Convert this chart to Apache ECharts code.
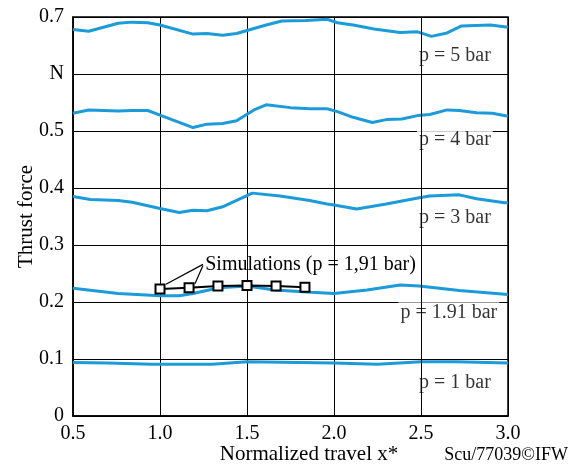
<!doctype html>
<html>
<head>
<meta charset="utf-8">
<title>Thrust force</title>
<script src="https://cdn.jsdelivr.net/npm/echarts@6/dist/echarts.min.js"></script>
<style>
  html, body { margin: 0; padding: 0; background: #fff; }
  #main { width: 574px; height: 466px; }
</style>
</head>
<body>
<div id="main"></div>
<script>
// measured curves, [x*, thrust force]
var p5 = [[0.5,0.678],[0.59,0.675],[0.76,0.689],[0.84,0.691],[0.93,0.690],[1.0,0.686],[1.19,0.670],[1.27,0.671],
  [1.36,0.668],[1.44,0.671],[1.61,0.686],[1.70,0.693],[1.84,0.694],[1.96,0.696],[2.02,0.690],[2.11,0.686],
  [2.23,0.679],[2.38,0.673],[2.48,0.674],[2.56,0.666],[2.65,0.672],[2.73,0.684],[2.90,0.686],[3.0,0.682]];
var p4 = [[0.5,0.531],[0.59,0.537],[0.76,0.535],[0.84,0.536],[0.93,0.536],[1.0,0.528],[1.19,0.506],[1.27,0.512],
  [1.36,0.513],[1.44,0.518],[1.54,0.537],[1.61,0.546],[1.75,0.541],[1.86,0.539],[1.96,0.539],[2.02,0.534],
  [2.11,0.524],[2.22,0.515],[2.30,0.520],[2.39,0.521],[2.48,0.527],[2.55,0.529],[2.65,0.537],[2.72,0.536],
  [2.82,0.532],[2.91,0.531],[3.0,0.526]];
var p3 = [[0.5,0.385],[0.60,0.380],[0.76,0.378],[0.84,0.375],[1.0,0.364],[1.11,0.357],[1.19,0.361],[1.27,0.360],
  [1.36,0.367],[1.53,0.391],[1.69,0.386],[1.86,0.378],[1.96,0.372],[2.0,0.370],[2.13,0.363],[2.30,0.372],
  [2.49,0.383],[2.55,0.386],[2.72,0.388],[2.82,0.381],[2.98,0.374],[3.0,0.374]];
var p191 = [[0.5,0.224],[0.76,0.215],[1.0,0.211],[1.11,0.211],[1.19,0.215],[1.34,0.225],[1.50,0.228],[1.66,0.221],
  [1.87,0.217],[2.0,0.215],[2.19,0.221],[2.38,0.230],[2.49,0.228],[2.72,0.220],[3.0,0.213]];
var p1 = [[0.5,0.094],[0.7,0.093],[0.95,0.091],[1.3,0.091],[1.5,0.095],[1.8,0.094],[2.0,0.093],[2.25,0.091],
  [2.5,0.095],[2.7,0.095],[3.0,0.093]];
var simulations = [[1.0,0.223],[1.167,0.225],[1.333,0.228],[1.5,0.229],[1.667,0.228],[1.833,0.226]];

var curveLabels = ['p = 5 bar', 'p = 4 bar', 'p = 3 bar', 'p = 1.91 bar', 'p = 1 bar'];
var yTickLabels = { '0': '0', '0.1': '0.1', '0.2': '0.2', '0.3': '0.3', '0.4': '0.4', '0.5': '0.5', '0.6': 'N', '0.7': '0.7' };

var serif = 'Liberation Serif';
var blue = '#1b9bd7';

function curve(data) {
  return {
    type: 'line', data: data, symbol: 'none', z: 4, silent: true,
    lineStyle: { color: blue, width: 3 }
  };
}

var myChart = echarts.init(document.getElementById('main'));

var option = {
  animation: false,
  grid: { left: 73, right: 66, top: 17, bottom: 50, outerBoundsMode: 'none', containLabel: false,
    show: true, borderColor: '#000', borderWidth: 1.5 },
  xAxis: {
    type: 'value', min: 0.5, max: 3.0, interval: 0.5,
    name: 'Normalized travel x*', nameLocation: 'middle', nameGap: 28, nameMoveOverlap: false,
    nameTextStyle: { fontFamily: serif, fontSize: 21, color: '#000', padding: [0, 0, 0, 37] },
    axisLine: { lineStyle: { color: '#000', width: 1.5 } },
    axisTick: { show: false },
    axisLabel: { fontFamily: serif, fontSize: 20, color: '#000', margin: 8,
      formatter: function (v) { return v.toFixed(1); } },
    splitLine: { lineStyle: { color: '#000', width: 1 } }
  },
  yAxis: {
    type: 'value', min: 0, max: 0.7, interval: 0.1,
    name: 'Thrust force', nameLocation: 'middle', nameGap: 36, nameMoveOverlap: false,
    nameTextStyle: { fontFamily: serif, fontSize: 21, color: '#000' },
    axisLine: { lineStyle: { color: '#000', width: 1.5 } },
    axisTick: { show: false },
    axisLabel: { fontFamily: serif, fontSize: 20, color: '#000', margin: 9,
      formatter: function (v) { return yTickLabels[(Math.round(v * 10) / 10).toString()]; } },
    splitLine: { lineStyle: { color: '#000', width: 1 } }
  },
  graphic: [{
    type: 'text', right: 6, bottom: 2,
    style: { text: 'Scu/77039©IFW', fontFamily: serif, fontSize: 18, fill: '#000' }
  }],
  series: [
    {
      // curve names, white boxes over the grid lines
      type: 'scatter', symbolSize: 0, z: 1, silent: true,
      data: [
        { value: [2.695, 0.632], name: curveLabels[0] },
        { value: [2.695, 0.485], name: curveLabels[1] },
        { value: [2.695, 0.347], name: curveLabels[2] },
        { value: [2.66, 0.181], name: curveLabels[3] },
        { value: [2.695, 0.058], name: curveLabels[4] }
      ],
      label: {
        show: true, position: [0, 0], align: 'center', verticalAlign: 'middle', formatter: '{b}',
        fontFamily: serif, fontSize: 20, color: '#000',
        backgroundColor: '#fff', padding: [1, 2, 0, 2]
      }
    },
    {
      // vertical grid line at 2.5 shows through the labels
      type: 'line', data: [], z: 2, silent: true,
      markLine: {
        symbol: 'none', silent: true, animation: false, label: { show: false },
        lineStyle: { color: '#000', width: 1, type: 'solid' },
        data: [{ xAxis: 2.5 }]
      }
    },
    curve(p5), curve(p4), curve(p3), curve(p191), curve(p1),
    {
      type: 'line', data: simulations, z: 6, silent: true,
      symbol: 'rect', symbolSize: 9,
      itemStyle: { color: '#fff', borderColor: '#000', borderWidth: 2 },
      lineStyle: { color: '#000', width: 2 },
      markLine: {
        symbol: 'none', silent: true, animation: false,
        lineStyle: { color: '#000', width: 1.2, type: 'solid' },
        label: { show: false },
        data: [
          [{ coord: [1.247, 0.266] }, { coord: [1.034, 0.231] }],
          [{ coord: [1.247, 0.264] }, { coord: [1.201, 0.232] }]
        ]
      },
      markPoint: {
        symbol: 'circle', symbolSize: 0, silent: true,
        data: [{ coord: [1.26, 0.266], value: 'Simulations (p = 1,91 bar)' }],
        label: { show: true, position: 'right', distance: 0, formatter: '{c}',
          fontFamily: serif, fontSize: 20, color: '#000' }
      }
    }
  ]
};

myChart.setOption(option);
</script>
</body>
</html>
